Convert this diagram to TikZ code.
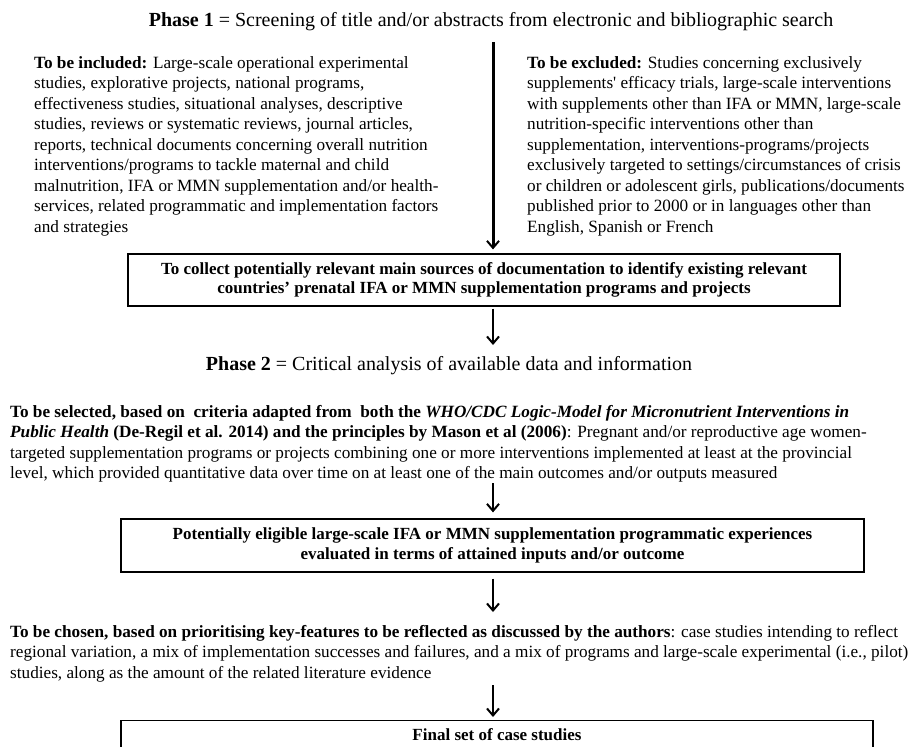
\documentclass[tikz,border=0pt]{standalone}
\usepackage{fontspec}
\setmainfont{Liberation Serif}[Ligatures=TeXOff]
\usetikzlibrary{arrows.meta}
\begin{document}
\begin{tikzpicture}[x=1pt,y=-1pt,
  body/.style={inner sep=0pt,align=left,anchor=north west,font=\fontsize{17.2}{20.5}\selectfont},
  boxtext/.style={draw,line width=1.2pt,align=center,font=\fontsize{17}{19.5}\selectfont\bfseries},
  phase/.style={anchor=base,inner sep=0pt,font=\fontsize{20}{24}\selectfont},
  flow/.style={line width=2pt,-{Straight Barb[length=7pt,width=12pt,line width=2pt]}}]
\clip (0,0) rectangle (914,747);
\path[use as bounding box] (0,0) rectangle (914,747);
% Phase 1
\node[phase] (phase1) at (491,26)
  {\textbf{Phase 1} = Screening of title and/or abstracts from electronic and bibliographic search};
% included
\node[body] (incl) at (34,56) {%
\textbf{To be included:} Large-scale operational experimental\\
studies, explorative projects, national programs,\\
effectiveness studies, situational analyses, descriptive\\
studies, reviews or systematic reviews, journal articles,\\
reports, technical documents concerning overall nutrition\\
interventions/programs to tackle maternal and child\\
malnutrition, IFA or MMN supplementation and/or health-\\
services, related programmatic and implementation factors\\
and strategies};
% excluded
\node[body] (excl) at (527,56) {%
\textbf{To be excluded:} Studies concerning exclusively\\
supplements' efficacy trials, large-scale interventions\\
with supplements other than IFA or MMN, large-scale\\
nutrition-specific interventions other than\\
supplementation, interventions-programs/projects\\
exclusively targeted to settings/circumstances of crisis\\
or children or adolescent girls, publications/documents\\
published prior to 2000 or in languages other than\\
English, Spanish or French};
% box 1
\node[boxtext,minimum width=712pt,minimum height=52pt] (box1) at (484,280) {%
To collect potentially relevant main sources of documentation to identify existing relevant\\
countries’ prenatal IFA or MMN supplementation programs and projects};
% Phase 2
\node[phase] (phase2) at (449,370)
  {\textbf{Phase 2} = Critical analysis of available data and information};
% selected
\node[body] (sel) at (10,405) {%
\textbf{To be selected, based on\ \ criteria adapted from\ \ both the \textit{WHO/CDC Logic-Model for Micronutrient Interventions in}}\\
\textbf{\textit{Public Health} (De-Regil et al. 2014) and the principles by Mason et al (2006)}: Pregnant and/or reproductive age women-\\
targeted supplementation programs or projects combining one or more interventions implemented at least at the provincial\\
level, which provided quantitative data over time on at least one of the main outcomes and/or outputs measured};
% box 2
\node[boxtext,minimum width=743pt,minimum height=53pt] (box2) at (492.5,545.5) {%
\raisebox{-2pt}{Potentially eligible large-scale IFA or MMN supplementation programmatic experiences}\\
\raisebox{-2pt}{evaluated in terms of attained inputs and/or outcome}};
% chosen
\node[body] (chos) at (10,625) {%
\textbf{To be chosen, based on prioritising key-features to be reflected as discussed by the authors}: case studies intending to reflect\\
regional variation, a mix of implementation successes and failures, and a mix of programs and large-scale experimental (i.e., pilot)\\
studies, along as the amount of the related literature evidence};
% final
\node[boxtext,minimum width=752pt,anchor=north,inner ysep=8pt] (final) at (497,720) {Final set of case studies};
% arrows
\coordinate (a1s) at (493,42);
\coordinate (a2e) at (493,345);
\coordinate (a3s) at (493,483);
\coordinate (a5s) at (493,685);
\draw[flow,line width=3pt] (a1s) -- ([yshift=4pt]a1s |- box1.north);
\draw[flow] (box1.south -| a1s) ++(0,2) -- (a2e);
\draw[flow] (a3s) -- ([yshift=6pt]a3s |- box2.north);
\draw[flow] ([yshift=-6pt]box2.south -| a1s) -- (493,612);
\draw[flow] (a5s) -- ([yshift=3pt]a5s |- final.north);
\end{tikzpicture}
\end{document}
